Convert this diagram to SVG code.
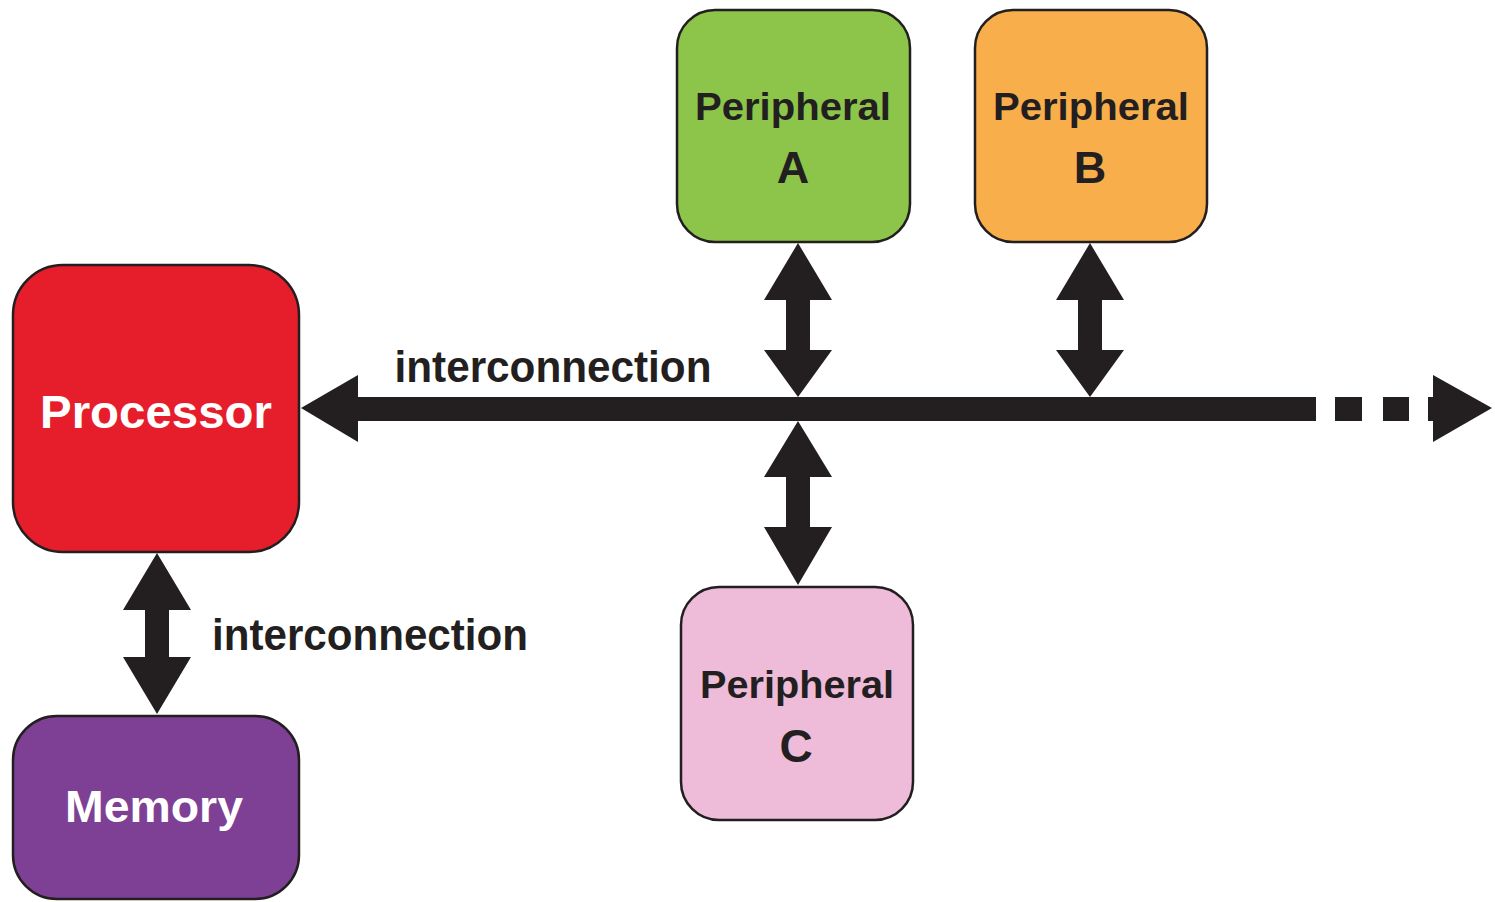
<svg xmlns="http://www.w3.org/2000/svg" width="1495" height="902" viewBox="0 0 1495 902">
<style>
.box{stroke:#231F20;stroke-width:2.5}
.t{font-family:"Liberation Sans",Arial,sans-serif;font-weight:bold;text-anchor:middle}
.dark{fill:#231F20}
.w{fill:#FFFFFF}
</style>
<rect width="1495" height="902" fill="#FFFFFF"/>
<g id="connectors" class="dark">
  <rect x="356" y="397" width="960" height="24"/>
  <polygon points="301,408 358,375 358,442"/>
  <rect x="1335" y="397" width="27" height="24"/>
  <rect x="1383" y="397" width="26" height="24"/>
  <rect x="1428" y="397" width="7" height="24"/>
  <polygon points="1433,375 1492,408 1433,442"/>
  <polygon points="798,243 832,300 810,300 810,350 832,350 798,397 764,350 786,350 786,300 764,300"/>
  <polygon points="798,421 832,477 810,477 810,527 832,527 798,585 764,527 786,527 786,477 764,477"/>
  <polygon points="1090,243 1124,300 1102,300 1102,350 1124,350 1090,397 1056,350 1078,350 1078,300 1056,300"/>
  <polygon points="157,553 191,610 169,610 169,657 191,657 157,714 123,657 145,657 145,610 123,610"/>
  <text class="t" x="553" y="382" font-size="44" textLength="317" lengthAdjust="spacingAndGlyphs">interconnection</text>
  <text class="t" x="370" y="650" font-size="44" textLength="316" lengthAdjust="spacingAndGlyphs">interconnection</text>
</g>
<g id="processor">
  <rect class="box" x="13" y="265" width="286" height="287" rx="50" fill="#E61D2B"/>
  <text class="t w" x="156" y="428" font-size="47" textLength="232" lengthAdjust="spacingAndGlyphs">Processor</text>
</g>
<g id="memory">
  <rect class="box" x="13" y="716" width="286" height="183" rx="44" fill="#7E4095"/>
  <text class="t w" x="154" y="822" font-size="45" textLength="178" lengthAdjust="spacingAndGlyphs">Memory</text>
</g>
<g id="peripheralA">
  <rect class="box" x="677" y="10" width="233" height="232" rx="38" fill="#8CC54A"/>
  <text class="t dark" x="793" y="120" font-size="38" textLength="196" lengthAdjust="spacingAndGlyphs">Peripheral</text>
  <text class="t dark" x="793" y="183" font-size="45">A</text>
</g>
<g id="peripheralB">
  <rect class="box" x="975" y="10" width="232" height="232" rx="38" fill="#F8AE4B"/>
  <text class="t dark" x="1091" y="120" font-size="38" textLength="196" lengthAdjust="spacingAndGlyphs">Peripheral</text>
  <text class="t dark" x="1090" y="183" font-size="45">B</text>
</g>
<g id="peripheralC">
  <rect class="box" x="681" y="587" width="232" height="233" rx="38" fill="#EEBBD8"/>
  <text class="t dark" x="797" y="698" font-size="38" textLength="194" lengthAdjust="spacingAndGlyphs">Peripheral</text>
  <text class="t dark" x="796" y="762" font-size="46">C</text>
</g>
</svg>
